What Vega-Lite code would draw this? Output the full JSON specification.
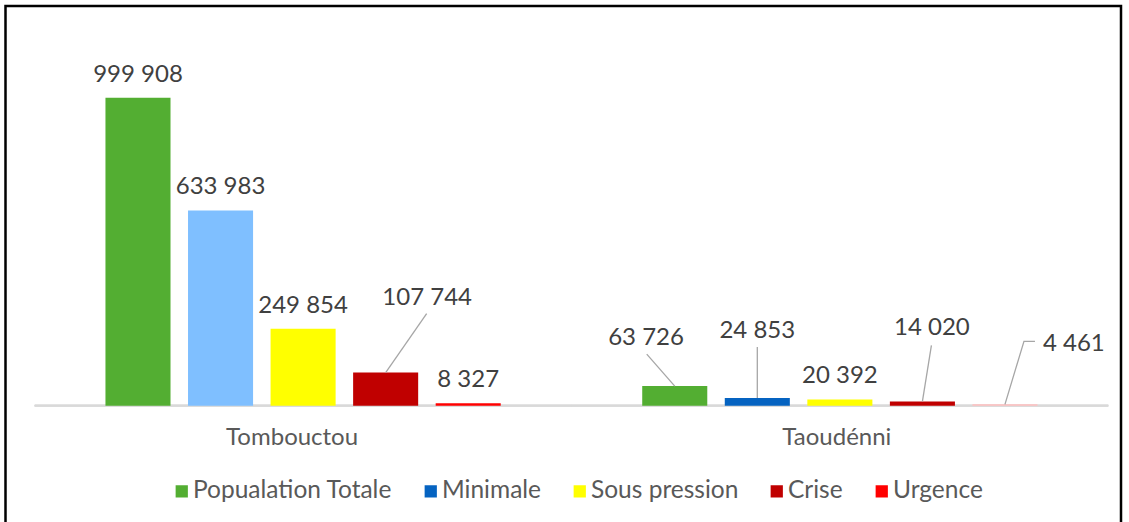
{
  "$schema": "https://vega.github.io/schema/vega-lite/v6.json",
  "width": 1115.5,
  "height": 520,
  "autosize": {"type": "none"},
  "padding": {"left": 5.5, "top": 6, "right": 8, "bottom": 0},
  "background": "white",
  "config": {
    "view": {"stroke": "#000000", "strokeWidth": 2.5},
    "font": "Lato",
    "locale": {"number": {"decimal": ",", "thousands": " ", "grouping": [3], "currency": ["", " €"]}}
  },
  "data": {
    "values": [
      {"region": "Tombouctou", "series": "Popualation Totale", "value": 999908},
      {"region": "Tombouctou", "series": "Minimale", "value": 633983},
      {"region": "Tombouctou", "series": "Sous pression", "value": 249854},
      {"region": "Tombouctou", "series": "Crise", "value": 107744},
      {"region": "Tombouctou", "series": "Urgence", "value": 8327},
      {"region": "Taoudénni", "series": "Popualation Totale", "value": 63726},
      {"region": "Taoudénni", "series": "Minimale", "value": 24853},
      {"region": "Taoudénni", "series": "Sous pression", "value": 20392},
      {"region": "Taoudénni", "series": "Crise", "value": 14020},
      {"region": "Taoudénni", "series": "Urgence", "value": 4461}
    ]
  },
  "encoding": {
    "x": {
      "field": "region",
      "type": "nominal",
      "sort": ["Tombouctou", "Taoudénni"],
      "scale": {"domain": ["Tombouctou", "Taoudénni"], "paddingInner": 0, "paddingOuter": 0.0391, "align": 0.696},
      "axis": {
        "orient": "bottom",
        "offset": -120.3,
        "domain": false,
        "ticks": false,
        "grid": false,
        "labelPadding": 20,
        "labelAngle": 0,
        "labelFont": "Lato",
        "labelFontSize": 24,
        "labelColor": "#595959",
        "labelOffset": {"condition": {"test": "datum.value === 'Tombouctou'", "value": -11}, "value": -3},
        "title": null
      }
    },
    "y": {
      "field": "value",
      "type": "quantitative",
      "scale": {"domain": [-390560, 1297640], "nice": false, "zero": false},
      "axis": null
    }
  },
  "layer": [
    {
      "mark": {"type": "bar", "color": "#D9D9D9"},
      "encoding": {
        "x": {"field": "region", "type": "nominal"},
        "y": {"datum": 2700},
        "y2": {"datum": -2700}
      }
    },
    {
      "mark": {"type": "bar"},
      "encoding": {
        "xOffset": {"field": "series", "type": "nominal", "scale": {"domain": ["Popualation Totale", "Minimale", "Sous pression", "Crise", "Urgence"], "paddingInner": 0.212, "paddingOuter": 0.857}},
        "color": {
          "field": "series",
          "type": "nominal",
          "scale": {"domain": ["Popualation Totale", "Minimale", "Sous pression", "Crise", "Urgence"], "range": ["#53AE32", "#0563C1", "#FFFF00", "#C00000", "#FF0000"]},
          "condition": [
            {"test": "datum.region === 'Tombouctou' && datum.series === 'Minimale'", "value": "#7FBFFF"},
            {"test": "datum.region === 'Taoudénni' && datum.series === 'Urgence'", "value": "#FFBFBF"}
          ],
          "legend": {
            "orient": "none",
            "legendX": 164,
            "legendY": 473,
            "direction": "horizontal",
            "title": null,
            "symbolType": "square",
            "symbolSize": 150,
            "symbolStrokeWidth": 0,
            "labelFont": "Lato",
            "labelFontSize": 24.5,
            "labelColor": "#595959",
            "labelLimit": 0,
            "columnPadding": 26,
            "labelOffset": -1,
            "padding": 0
          }
        }
      }
    },
    {
      "transform": [{"filter": "!((datum.region === 'Tombouctou' && datum.series === 'Crise') || (datum.region === 'Taoudénni' && datum.series !== 'Sous pression'))"}],
      "mark": {"type": "text", "baseline": "alphabetic", "align": "center", "dy": -16, "font": "Lato", "fontSize": 24, "color": "#404040"},
      "encoding": {
        "xOffset": {"field": "series", "type": "nominal"},
        "text": {"field": "value", "type": "quantitative", "format": ",.0f"}
      }
    },
    {
      "transform": [{"filter": "datum.region === 'Tombouctou' && datum.series === 'Crise'"}],
      "mark": {"type": "text", "baseline": "alphabetic", "align": "center", "dx": 41.5, "dy": -67.3, "font": "Lato", "fontSize": 24, "color": "#404040"},
      "encoding": {
        "xOffset": {"field": "series", "type": "nominal"},
        "text": {"field": "value", "type": "quantitative", "format": ",.0f"}
      }
    },
    {
      "transform": [{"filter": "datum.region === 'Taoudénni' && datum.series === 'Popualation Totale'"}],
      "mark": {"type": "text", "baseline": "alphabetic", "align": "center", "dx": -28.7, "dy": -41.3, "font": "Lato", "fontSize": 24, "color": "#404040"},
      "encoding": {
        "xOffset": {"field": "series", "type": "nominal"},
        "text": {"field": "value", "type": "quantitative", "format": ",.0f"}
      }
    },
    {
      "transform": [{"filter": "datum.region === 'Taoudénni' && datum.series === 'Minimale'"}],
      "mark": {"type": "text", "baseline": "alphabetic", "align": "center", "dx": 0, "dy": -60.3, "font": "Lato", "fontSize": 24, "color": "#404040"},
      "encoding": {
        "xOffset": {"field": "series", "type": "nominal"},
        "text": {"field": "value", "type": "quantitative", "format": ",.0f"}
      }
    },
    {
      "transform": [{"filter": "datum.region === 'Taoudénni' && datum.series === 'Crise'"}],
      "mark": {"type": "text", "baseline": "alphabetic", "align": "center", "dx": 9.5, "dy": -66, "font": "Lato", "fontSize": 24, "color": "#404040"},
      "encoding": {
        "xOffset": {"field": "series", "type": "nominal"},
        "text": {"field": "value", "type": "quantitative", "format": ",.0f"}
      }
    },
    {
      "transform": [{"filter": "datum.region === 'Taoudénni' && datum.series === 'Urgence'"}],
      "mark": {"type": "text", "baseline": "alphabetic", "align": "left", "dx": 38, "dy": -53.6, "font": "Lato", "fontSize": 24, "color": "#404040"},
      "encoding": {
        "xOffset": {"field": "series", "type": "nominal"},
        "text": {"field": "value", "type": "quantitative", "format": ",.0f"}
      }
    },
    {
      "transform": [{"filter": "datum.region === 'Tombouctou' && datum.series === 'Crise'"}],
      "mark": {"type": "point", "shape": "M0,0L0.41,-0.59", "size": 40000, "filled": false, "stroke": "#A6A6A6", "strokeWidth": 1.3, "opacity": 1},
      "encoding": {"xOffset": {"field": "series", "type": "nominal"}}
    },
    {
      "transform": [{"filter": "datum.region === 'Taoudénni' && datum.series === 'Popualation Totale'"}],
      "mark": {"type": "point", "shape": "M0,0L-0.28,-0.32", "size": 40000, "filled": false, "stroke": "#A6A6A6", "strokeWidth": 1.3, "opacity": 1},
      "encoding": {"xOffset": {"field": "series", "type": "nominal"}}
    },
    {
      "transform": [{"filter": "datum.region === 'Taoudénni' && datum.series === 'Minimale'"}],
      "mark": {"type": "point", "shape": "M0,0L0,-0.51", "size": 40000, "filled": false, "stroke": "#A6A6A6", "strokeWidth": 1.3, "opacity": 1},
      "encoding": {"xOffset": {"field": "series", "type": "nominal"}}
    },
    {
      "transform": [{"filter": "datum.region === 'Taoudénni' && datum.series === 'Crise'"}],
      "mark": {"type": "point", "shape": "M0,0L0.09,-0.56", "size": 40000, "filled": false, "stroke": "#A6A6A6", "strokeWidth": 1.3, "opacity": 1},
      "encoding": {"xOffset": {"field": "series", "type": "nominal"}}
    },
    {
      "transform": [{"filter": "datum.region === 'Taoudénni' && datum.series === 'Urgence'"}],
      "mark": {"type": "point", "shape": "M0,0L0.19,-0.63L0.30,-0.63", "size": 40000, "filled": false, "stroke": "#A6A6A6", "strokeWidth": 1.3, "opacity": 1},
      "encoding": {"xOffset": {"field": "series", "type": "nominal"}}
    }
  ]
}
